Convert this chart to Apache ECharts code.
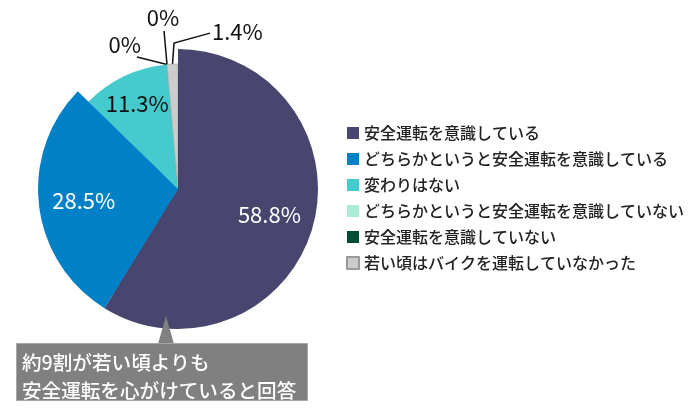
<!DOCTYPE html>
<html>
<head>
<meta charset="utf-8">
<script src="https://cdn.jsdelivr.net/npm/echarts@6/dist/echarts.min.js"></script>
<style>
  html, body { margin: 0; padding: 0; background: #ffffff; }
  #chart { width: 700px; height: 410px; }
</style>
</head>
<body>
<div id="chart"></div>
<script>
// ---- data ----
const categories = [
  '安全運転を意識している',
  'どちらかというと安全運転を意識している',
  '変わりはない',
  'どちらかというと安全運転を意識していない',
  '安全運転を意識していない',
  '若い頃はバイクを運転していなかった'
];
const values = [58.8, 28.5, 11.3, 0, 0, 1.4];
const colors = ['#48466e', '#0080c6', '#45cbcd', '#a9ebd6', '#004d32', '#cccccc'];
const calloutLines = ['約9割が若い頃よりも', '安全運転を心がけていると回答'];

// ---- styling / layout ----
const FONT = '"Noto Sans CJK JP", "Noto Sans", sans-serif';
const CENTER = [178, 189];
const bigSlices = [0, 1];          // slices drawn at the larger radius
const insideLabels = { 0: '#ffffff', 1: '#ffffff', 2: '#111111' };
// outside label offsets relative to the library-computed anchor point
const outsideAdjust = {
  3: { dx: -26, dy: -19.5, align: 'right', line: [[-30, -7.5], [-30, -7.5]] },
  4: { dx: -4, dy: -46.5, align: 'center', line: [[-3, -33.5], [-3, -33.5]] },
  5: { dx: 39.5, dy: -32, align: 'left', line: [[1.5, -21], [37.5, -31]] }
};

const mainData = categories.map((n, i) => ({
  name: n, value: values[i],
  itemStyle: { color: colors[i], borderColor: i === 5 ? '#9a9a9a' : colors[i], borderWidth: i === 5 ? 0.6 : 0 },
  label: { show: outsideAdjust[i] !== undefined },
  labelLine: { show: outsideAdjust[i] !== undefined }
}));
const outerData = categories.map((n, i) => ({
  name: n, value: values[i],
  itemStyle: { color: bigSlices.includes(i) ? colors[i] : 'transparent' }
}));
const labelData = categories.map((n, i) => ({
  name: n, value: values[i],
  itemStyle: { color: 'transparent' },
  label: insideLabels[i] ? { show: true, color: insideLabels[i] } : { show: false }
}));

const chart = echarts.init(document.getElementById('chart'), null, { renderer: 'canvas' });
chart.setOption({
  animation: false,
  backgroundColor: '#ffffff',
  textStyle: { fontFamily: FONT },
  legend: {
    orient: 'vertical',
    left: 341,
    top: 120,
    itemWidth: 12,
    itemHeight: 12,
    itemGap: 10,
    icon: 'rect',
    data: categories,
    selectedMode: false,
    textStyle: { fontSize: 16, fontWeight: 500, color: '#222222', fontFamily: FONT }
  },
  series: [
    {
      type: 'pie',
      center: CENTER,
      radius: 125,
      startAngle: 90,
      clockwise: true,
      avoidLabelOverlap: false,
      silent: true,
      data: mainData,
      label: {
        position: 'outside',
        formatter: '{c}%',
        fontSize: 22,
        color: '#111111',
        fontFamily: FONT
      },
      labelLine: { show: true, lineStyle: { color: '#111111', width: 1.5 } },
      labelLayout: function (p) {
        const adj = outsideAdjust[p.dataIndex];
        if (!adj || !p.labelLinePoints) return {};
        const a = p.labelLinePoints[0];
        return {
          x: a[0] + adj.dx,
          y: a[1] + adj.dy,
          align: adj.align,
          verticalAlign: 'middle',
          labelLinePoints: [
            [a[0], a[1]],
            [a[0] + adj.line[0][0], a[1] + adj.line[0][1]],
            [a[0] + adj.line[1][0], a[1] + adj.line[1][1]]
          ]
        };
      }
    },
    {
      type: 'pie',
      center: CENTER,
      radius: 140,
      startAngle: 90,
      clockwise: true,
      silent: true,
      data: outerData,
      label: { show: false },
      labelLine: { show: false }
    },
    {
      type: 'pie',
      center: CENTER,
      radius: [0, 184],
      startAngle: 90,
      clockwise: true,
      silent: true,
      data: labelData,
      label: {
        position: 'inside',
        formatter: '{c}%',
        fontSize: 22,
        fontFamily: FONT
      },
      labelLine: { show: false }
    }
  ],
  graphic: [
    {
      type: 'polygon',
      z: 100,
      shape: { points: [[166, 316], [158, 344], [174, 344]] },
      style: { fill: '#808080' }
    },
    {
      type: 'rect',
      z: 100,
      shape: { x: 16.5, y: 343.5, width: 291, height: 57 },
      style: { fill: '#808080', stroke: '#a6a6a6', lineWidth: 1 }
    },
    {
      type: 'text',
      z: 101,
      left: 22,
      top: 349,
      style: {
        text: calloutLines.join('\n'),
        fill: '#ffffff',
        font: '500 19.6px ' + FONT,
        lineHeight: 28
      }
    }
  ]
});
</script>
</body>
</html>
